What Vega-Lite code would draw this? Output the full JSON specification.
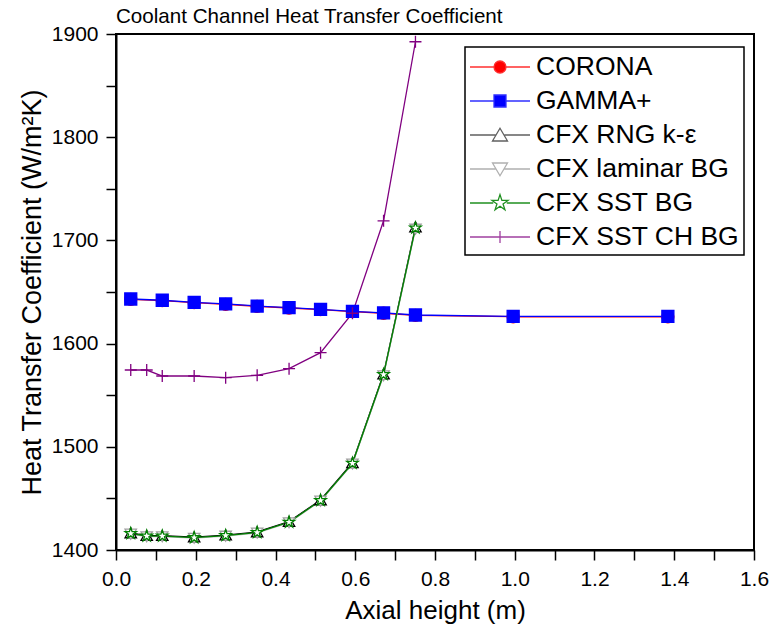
{
  "$schema": "https://vega.github.io/schema/vega-lite/v6.json",
  "width": 638,
  "height": 516,
  "autosize": {"type": "none"},
  "padding": {"left": 116, "top": 34, "right": 21, "bottom": 82},
  "background": "white",
  "config": {
    "font": "Liberation Sans",
    "view": {"stroke": "black", "strokeWidth": 2},
    "axis": {
      "grid": false, "domainColor": "black", "domainWidth": 2, "ticks": true,
      "tickColor": "black", "tickWidth": 1.5, "tickSize": 10, "tickOpacity": 1,
      "labelColor": "black", "labelFont": "Liberation Sans", "labelFontSize": 21,
      "titleFont": "Liberation Sans", "titleFontSize": 26, "titleFontWeight": "normal", "titleColor": "black",
      "labelPadding": 8, "labelFlush": false, "labelOverlap": false
    },
    "legend": {
      "labelFont": "Liberation Sans", "labelFontSize": 26.5, "labelColor": "black", "labelLimit": 400,
      "labelOffset": 35, "padding": 4, "strokeColor": "black", "strokeWidth": 1.5, "fillColor": "white",
      "symbolSize": 900, "symbolStrokeWidth": 1.3, "rowPadding": 4
    }
  },
  "title": {
    "text": "Coolant Channel Heat Transfer Coefficient",
    "anchor": "start", "frame": "group", "fontSize": 20.6, "fontWeight": "normal",
    "font": "Liberation Sans", "color": "black", "offset": -5
  },
  "data": {
    "values": [
      {"series": "CORONA", "x": 0.037, "y": 1642.9},
      {"series": "CORONA", "x": 0.116, "y": 1641.7},
      {"series": "CORONA", "x": 0.196, "y": 1639.7},
      {"series": "CORONA", "x": 0.275, "y": 1638.1},
      {"series": "CORONA", "x": 0.354, "y": 1636.1},
      {"series": "CORONA", "x": 0.434, "y": 1634.5},
      {"series": "CORONA", "x": 0.513, "y": 1632.9},
      {"series": "CORONA", "x": 0.593, "y": 1631.0},
      {"series": "CORONA", "x": 0.671, "y": 1629.4},
      {"series": "CORONA", "x": 0.751, "y": 1627.4},
      {"series": "CORONA", "x": 0.996, "y": 1626.0},
      {"series": "CORONA", "x": 1.384, "y": 1626.0},
      {"series": "GAMMA+", "x": 0.037, "y": 1643.2},
      {"series": "GAMMA+", "x": 0.116, "y": 1642.0},
      {"series": "GAMMA+", "x": 0.196, "y": 1640.0},
      {"series": "GAMMA+", "x": 0.275, "y": 1638.4},
      {"series": "GAMMA+", "x": 0.354, "y": 1636.4},
      {"series": "GAMMA+", "x": 0.434, "y": 1634.8},
      {"series": "GAMMA+", "x": 0.513, "y": 1633.2},
      {"series": "GAMMA+", "x": 0.593, "y": 1631.3},
      {"series": "GAMMA+", "x": 0.671, "y": 1629.7},
      {"series": "GAMMA+", "x": 0.751, "y": 1627.7},
      {"series": "GAMMA+", "x": 0.996, "y": 1626.3},
      {"series": "GAMMA+", "x": 1.384, "y": 1626.3},
      {"series": "CFX RNG k-ε", "x": 0.037, "y": 1416.5},
      {"series": "CFX RNG k-ε", "x": 0.077, "y": 1414.0},
      {"series": "CFX RNG k-ε", "x": 0.116, "y": 1414.0},
      {"series": "CFX RNG k-ε", "x": 0.196, "y": 1412.5},
      {"series": "CFX RNG k-ε", "x": 0.275, "y": 1414.5},
      {"series": "CFX RNG k-ε", "x": 0.354, "y": 1417.5},
      {"series": "CFX RNG k-ε", "x": 0.434, "y": 1427.5},
      {"series": "CFX RNG k-ε", "x": 0.513, "y": 1448.5},
      {"series": "CFX RNG k-ε", "x": 0.593, "y": 1484.5},
      {"series": "CFX RNG k-ε", "x": 0.671, "y": 1570.5},
      {"series": "CFX RNG k-ε", "x": 0.751, "y": 1713.0},
      {"series": "CFX laminar BG", "x": 0.037, "y": 1415.5},
      {"series": "CFX laminar BG", "x": 0.077, "y": 1413.0},
      {"series": "CFX laminar BG", "x": 0.116, "y": 1413.0},
      {"series": "CFX laminar BG", "x": 0.196, "y": 1411.5},
      {"series": "CFX laminar BG", "x": 0.275, "y": 1413.5},
      {"series": "CFX laminar BG", "x": 0.354, "y": 1416.5},
      {"series": "CFX laminar BG", "x": 0.434, "y": 1426.5},
      {"series": "CFX laminar BG", "x": 0.513, "y": 1447.5},
      {"series": "CFX laminar BG", "x": 0.593, "y": 1483.5},
      {"series": "CFX laminar BG", "x": 0.671, "y": 1569.0},
      {"series": "CFX laminar BG", "x": 0.751, "y": 1711.0},
      {"series": "CFX SST BG", "x": 0.037, "y": 1416.0},
      {"series": "CFX SST BG", "x": 0.077, "y": 1413.5},
      {"series": "CFX SST BG", "x": 0.116, "y": 1413.5},
      {"series": "CFX SST BG", "x": 0.196, "y": 1412.0},
      {"series": "CFX SST BG", "x": 0.275, "y": 1414.0},
      {"series": "CFX SST BG", "x": 0.354, "y": 1417.0},
      {"series": "CFX SST BG", "x": 0.434, "y": 1427.0},
      {"series": "CFX SST BG", "x": 0.513, "y": 1448.0},
      {"series": "CFX SST BG", "x": 0.593, "y": 1484.0},
      {"series": "CFX SST BG", "x": 0.671, "y": 1570.0},
      {"series": "CFX SST BG", "x": 0.751, "y": 1712.0},
      {"series": "CFX SST CH BG", "x": 0.037, "y": 1574.4},
      {"series": "CFX SST CH BG", "x": 0.077, "y": 1574.4},
      {"series": "CFX SST CH BG", "x": 0.116, "y": 1568.6},
      {"series": "CFX SST CH BG", "x": 0.196, "y": 1568.6},
      {"series": "CFX SST CH BG", "x": 0.275, "y": 1567.0},
      {"series": "CFX SST CH BG", "x": 0.354, "y": 1569.3},
      {"series": "CFX SST CH BG", "x": 0.434, "y": 1575.7},
      {"series": "CFX SST CH BG", "x": 0.513, "y": 1591.2},
      {"series": "CFX SST CH BG", "x": 0.593, "y": 1629.4},
      {"series": "CFX SST CH BG", "x": 0.671, "y": 1719.0},
      {"series": "CFX SST CH BG", "x": 0.751, "y": 1892.5}
    ]
  },
  "layer": [
    {
      "mark": {"type": "line", "strokeWidth": 1.3},
      "encoding": {
        "x": {
          "field": "x", "type": "quantitative",
          "scale": {"domain": [0, 1.6], "nice": false, "zero": false},
          "axis": {
            "orient": "bottom", "ticks": true,
            "values": [0, 0.1, 0.2, 0.3, 0.4, 0.5, 0.6, 0.7, 0.8, 0.9, 1.0, 1.1, 1.2, 1.3, 1.4, 1.5, 1.6],
            "labelExpr": "round(datum.value * 10) % 2 == 0 ? format(datum.value, '.1f') : ''",
            "encode": {"ticks": {"update": {"y2": {"signal": "round(datum.value * 10) % 2 == 0 ? 10 : 5"}}}},
            "title": "Axial height (m)", "titlePadding": 8
          }
        },
        "y": {
          "field": "y", "type": "quantitative",
          "scale": {"domain": [1400, 1900], "nice": false, "zero": false},
          "axis": {
            "orient": "left", "ticks": true,
            "values": [1400, 1450, 1500, 1550, 1600, 1650, 1700, 1750, 1800, 1850, 1900],
            "labelExpr": "datum.value % 100 == 0 ? format(datum.value, 'd') : ''",
            "encode": {"ticks": {"update": {"x2": {"signal": "datum.value % 100 == 0 ? -10 : -5"}}}},
            "title": "Heat Transfer Coefficient (W/m²K)", "titlePadding": 5, "titleFontSize": 27
          }
        },
        "color": {
          "field": "series", "type": "nominal", "legend": null,
          "scale": {
            "domain": ["CORONA", "GAMMA+", "CFX RNG k-ε", "CFX laminar BG", "CFX SST BG", "CFX SST CH BG"],
            "range": ["#ff0000", "#0000ff", "#000000", "#c0c0c0", "#008000", "#800080"]
          }
        }
      }
    },
    {
      "mark": {"type": "point", "strokeWidth": 1.3, "opacity": 1},
      "encoding": {
        "x": {"field": "x", "type": "quantitative", "axis": null},
        "y": {"field": "y", "type": "quantitative", "axis": null},
        "shape": {
          "field": "series", "type": "nominal", "legend": null,
          "scale": {
            "domain": ["CORONA", "GAMMA+", "CFX RNG k-ε", "CFX laminar BG", "CFX SST BG", "CFX SST CH BG"],
            "range": ["circle", "square", "M0,-0.85L0.95,0.8L-0.95,0.8Z", "M0,0.85L0.95,-0.8L-0.95,-0.8Z",
              "M0,-1L0.2245,-0.309L0.951,-0.309L0.363,0.118L0.588,0.809L0,0.382L-0.588,0.809L-0.363,0.118L-0.951,-0.309L-0.2245,-0.309Z",
              "M-1,0L1,0M0,-1L0,1"]
          }
        },
        "size": {
          "field": "series", "type": "nominal", "legend": null,
          "scale": {
            "domain": ["CORONA", "GAMMA+", "CFX RNG k-ε", "CFX laminar BG", "CFX SST BG", "CFX SST CH BG"],
            "range": [144, 144, 225, 225, 324, 169]
          }
        },
        "fill": {
          "field": "series", "type": "nominal", "legend": null,
          "scale": {
            "domain": ["CORONA", "GAMMA+", "CFX RNG k-ε", "CFX laminar BG", "CFX SST BG", "CFX SST CH BG"],
            "range": ["#ff0000", "#0000ff", "#ffffff", "#ffffff", "#ffffff", "transparent"]
          }
        },
        "stroke": {
          "field": "series", "type": "nominal", "legend": null,
          "scale": {
            "domain": ["CORONA", "GAMMA+", "CFX RNG k-ε", "CFX laminar BG", "CFX SST BG", "CFX SST CH BG"],
            "range": ["#ff0000", "#0000ff", "#000000", "#a0a0a0", "#008000", "#800080"]
          }
        }
      }
    },
    {
      "transform": [{"filter": {"field": "x", "lt": -10}}],
      "mark": {"type": "point", "strokeWidth": 1.3, "size": 900, "opacity": 1},
      "encoding": {
        "x": {"field": "x", "type": "quantitative", "axis": null},
        "y": {"field": "y", "type": "quantitative", "axis": null},
        "shape": {
          "field": "series", "type": "nominal",
          "legend": {"title": null, "orient": "none", "legendX": 349, "legendY": 13},
          "scale": {
            "domain": ["CORONA", "GAMMA+", "CFX RNG k-ε", "CFX laminar BG", "CFX SST BG", "CFX SST CH BG"],
            "range": [
              "M-1,0L0.6,0M1.4,0L3,0M1.4,0A0.4,0.4,0,1,1,0.6,0A0.4,0.4,0,1,1,1.4,0Z",
              "M-1,0L0.6,0M1.4,0L3,0M0.6,-0.4L1.4,-0.4L1.4,0.4L0.6,0.4Z",
              "M-1,0L0.7,0M1.3,0L3,0M1,-0.45L1.5,0.4L0.5,0.4Z",
              "M-1,0L0.7,0M1.3,0L3,0M1,0.45L1.5,-0.4L0.5,-0.4Z",
              "M-1,0L0.55,0M1.45,0L3,0M1,-0.56L1.126,-0.173L1.533,-0.173L1.203,0.066L1.329,0.453L1,0.214L0.671,0.453L0.797,0.066L0.467,-0.173L0.874,-0.173Z",
              "M-1,0L3,0M1,-0.4L1,0.4"
            ]
          }
        },
        "fill": {
          "field": "series", "type": "nominal",
          "legend": {"title": null, "orient": "none", "legendX": 349, "legendY": 13},
          "scale": {
            "domain": ["CORONA", "GAMMA+", "CFX RNG k-ε", "CFX laminar BG", "CFX SST BG", "CFX SST CH BG"],
            "range": ["#ff0000", "#0000ff", "#ffffff", "#ffffff", "#ffffff", "transparent"]
          }
        },
        "stroke": {
          "field": "series", "type": "nominal",
          "legend": {"title": null, "orient": "none", "legendX": 349, "legendY": 13},
          "scale": {
            "domain": ["CORONA", "GAMMA+", "CFX RNG k-ε", "CFX laminar BG", "CFX SST BG", "CFX SST CH BG"],
            "range": ["#ff3030", "#3030ff", "#606060", "#b0b0b0", "#209020", "#a040a0"]
          }
        }
      }
    }
  ],
  "resolve": {
    "scale": {"shape": "independent", "fill": "independent", "stroke": "independent", "size": "independent", "color": "independent"},
    "axis": {"x": "independent", "y": "independent"},
    "legend": {"shape": "independent", "fill": "independent", "stroke": "independent", "size": "independent", "color": "independent"}
  }
}
